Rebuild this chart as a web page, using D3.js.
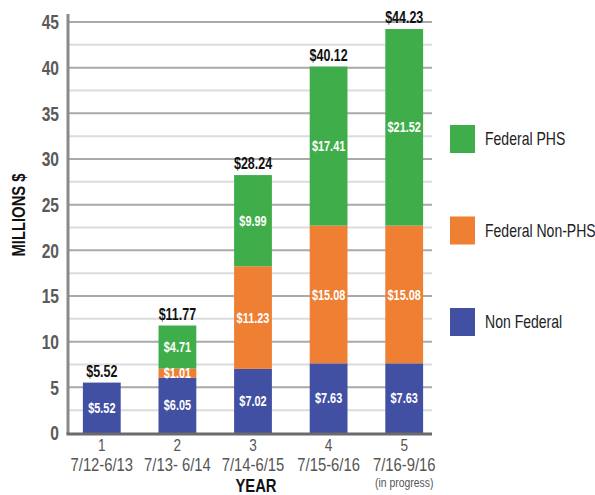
<!DOCTYPE html>
<html>
<head>
<meta charset="utf-8">
<script src="https://cdn.jsdelivr.net/npm/d3@7"></script>
<style>
  body { margin: 0; background: #fff; }
  text { font-family: "Liberation Sans", Arial, sans-serif; }
</style>
</head>
<body>
<div id="chart"></div>
<script>
// chart values
const years = ["1", "2", "3", "4", "5"];
const periods = ["7/12-6/13", "7/13- 6/14", "7/14-6/15", "7/15-6/16", "7/16-9/16"];
const nonFederal = [5.52, 6.05, 7.02, 7.63, 7.63];
const federalNonPHS = [0, 1.01, 11.23, 15.08, 15.08];
const federalPHS = [0, 4.71, 9.99, 17.41, 21.52];
const totals = [5.52, 11.77, 28.24, 40.12, 44.23];
const seriesNames = ["Non Federal", "Federal Non-PHS", "Federal PHS"];
const yTicks = [0, 5, 10, 15, 20, 25, 30, 35, 40, 45];

const width = 595, height = 495;
const colors = {"Non Federal": "#4150a2", "Federal Non-PHS": "#ee7f33", "Federal PHS": "#3fae4a"};
const squeeze = 0.78; // condensed look

const svg = d3.select("#chart").append("svg")
  .attr("width", width)
  .attr("height", height);

// text placed at (px, py), squeezed horizontally
function label(parent, px, py, sx) {
  return parent.append("g")
    .attr("transform", "translate(" + px + "," + py + ") scale(" + (sx || squeeze) + ",1)")
    .append("text");
}

const rows = years.map((y, i) => ({
  year: y,
  "Non Federal": nonFederal[i],
  "Federal Non-PHS": federalNonPHS[i],
  "Federal PHS": federalPHS[i]
}));

const stacked = d3.stack().keys(seriesNames)(rows);

const x = d3.scaleBand()
  .domain(years)
  .range([64, 442])
  .paddingInner(0.5)
  .paddingOuter(0.25);

const y = d3.scaleLinear()
  .domain([0, 45])
  .range([433, 22]);

const axisX = 68, gridEnd = 432;
const cx = d => x(d) + x.bandwidth() / 2;

// minor grid (every 2.5)
svg.append("g").selectAll("line")
  .data(d3.range(2.5, 45, 5))
  .join("line")
  .attr("x1", axisX).attr("x2", gridEnd)
  .attr("y1", d => y(d)).attr("y2", d => y(d))
  .attr("stroke", "#dcdcdc").attr("stroke-width", 2);

// major grid
svg.append("g").selectAll("line")
  .data(yTicks.filter(d => d > 0))
  .join("line")
  .attr("x1", axisX).attr("x2", gridEnd)
  .attr("y1", d => y(d)).attr("y2", d => y(d))
  .attr("stroke", "#a9a9a9").attr("stroke-width", 2);

// y tick labels
const yl = svg.append("g");
yTicks.forEach(t => {
  label(yl, 59, y(t))
    .attr("dy", "0.36em")
    .attr("text-anchor", "end")
    .attr("fill", "#5a5a5a")
    .attr("font-size", 20)
    .attr("font-weight", "bold")
    .text(t);
});

// y title
svg.append("g")
  .attr("transform", "translate(25,215) rotate(-90) scale(" + squeeze + ",1)")
  .append("text")
  .attr("text-anchor", "middle")
  .attr("font-size", 19)
  .attr("font-weight", "bold")
  .attr("fill", "#111")
  .text("MILLIONS $");

// bars
svg.append("g").selectAll("g")
  .data(stacked)
  .join("g")
  .attr("fill", d => colors[d.key])
  .selectAll("rect")
  .data(d => d.filter(s => s[1] - s[0] > 0))
  .join("rect")
  .attr("x", d => x(d.data.year))
  .attr("width", x.bandwidth())
  .attr("y", d => y(d[1]))
  .attr("height", d => y(d[0]) - y(d[1]));

// segment labels
const sl = svg.append("g");
stacked.forEach(series => {
  series.filter(s => s[1] - s[0] > 0).forEach(s => {
    label(sl, cx(s.data.year), y((s[0] + s[1]) / 2))
      .attr("dy", "0.36em")
      .attr("text-anchor", "middle")
      .attr("fill", "#fff")
      .attr("font-size", 14)
      .attr("font-weight", "bold")
      .text("$" + (s[1] - s[0]).toFixed(2));
  });
});

// totals
const tl = svg.append("g");
totals.forEach((t, i) => {
  label(tl, cx(years[i]), y(t) - 6)
    .attr("text-anchor", "middle")
    .attr("fill", "#111")
    .attr("font-size", 16)
    .attr("font-weight", "bold")
    .text("$" + t.toFixed(2));
});

// axes lines
svg.append("line")
  .attr("x1", axisX).attr("x2", axisX)
  .attr("y1", 14).attr("y2", 434)
  .attr("stroke", "#8a8a8a").attr("stroke-width", 3);
svg.append("line")
  .attr("x1", axisX - 1.5).attr("x2", gridEnd)
  .attr("y1", 434).attr("y2", 434)
  .attr("stroke", "#6a6a6a").attr("stroke-width", 3);

// x labels
const xl = svg.append("g").attr("fill", "#555");
years.forEach((d, i) => {
  label(xl, cx(d), 450.5, 0.8).attr("text-anchor", "middle").attr("font-size", 17).text(d);
  label(xl, cx(d), 471, 0.8).attr("text-anchor", "middle").attr("font-size", 18.5).text(periods[i]);
  if (i === 4) {
    label(xl, cx(d), 487, 0.8).attr("text-anchor", "middle").attr("font-size", 13).text("(in progress)");
  }
});

label(svg, 256, 492)
  .attr("text-anchor", "middle")
  .attr("font-size", 19)
  .attr("font-weight", "bold")
  .attr("fill", "#111")
  .text("YEAR");

// legend
const legendOrder = ["Federal PHS", "Federal Non-PHS", "Non Federal"];
legendOrder.forEach((d, i) => {
  const g = svg.append("g").attr("transform", "translate(450," + (125 + i * 91.5) + ")");
  g.append("rect")
    .attr("width", 25).attr("height", 28)
    .attr("fill", colors[d]);
  label(g, 35, 14)
    .attr("dy", "0.36em")
    .attr("font-size", 18)
    .attr("fill", "#222")
    .text(d);
});
</script>
</body>
</html>
